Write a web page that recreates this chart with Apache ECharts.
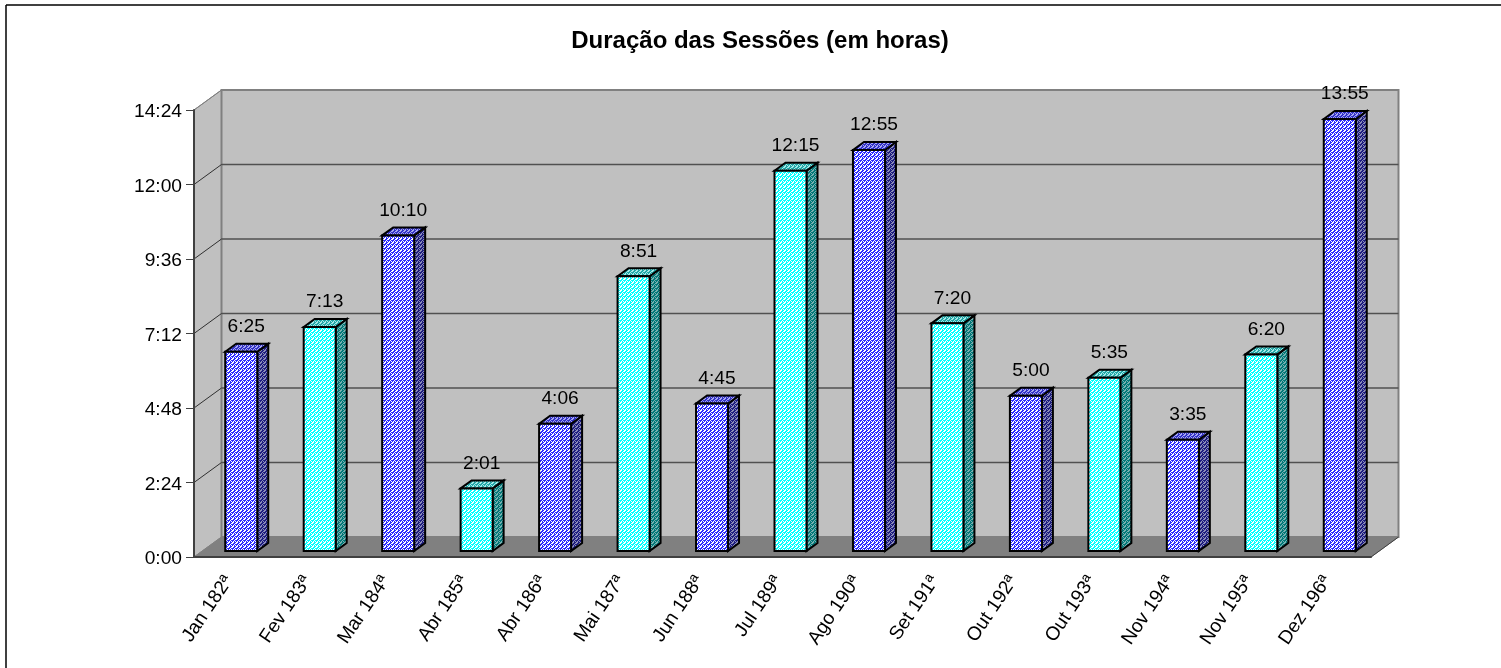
<!DOCTYPE html>
<html>
<head>
<meta charset="utf-8">
<style>html,body{margin:0;padding:0;background:#fff}#c{width:1501px;height:668px}</style>
<script src="https://cdn.jsdelivr.net/npm/echarts@6/dist/echarts.min.js"></script>
</head>
<body>
<div id="c"></div>
<script>
const titleText = 'Duração das Sessões (em horas)';
const categories = ['Jan 182ª','Fev 183ª','Mar 184ª','Abr 185ª','Abr 186ª','Mai 187ª','Jun 188ª','Jul 189ª','Ago 190ª','Set 191ª','Out 192ª','Out 193ª','Nov 194ª','Nov 195ª','Dez 196ª'];
const minutes = [385,433,610,121,246,531,285,735,775,440,300,335,215,380,835];
const colourKind = [0,1,0,1,0,1,0,1,0,1,0,1,0,1,0];
const tickMinutes = [0,144,288,432,576,720,864];

const FONT = '"Liberation Sans", Arial, sans-serif';
const wallDX = 27.5, wallDY = 20, barShiftX = 8, barShiftY = 6, barW = 32, barDX = 11, barDY = 8;

function fmt(m){ const h = Math.floor(m/60), r = m%60; return h + ':' + String(r).padStart(2,'0'); }

function pattern(a, b){
  const c = document.createElement('canvas'); c.width = 4; c.height = 4;
  const g = c.getContext('2d');
  const rows = [[0,0,1,0],[0,1,0,1],[1,1,0,0],[1,0,0,1]];
  rows.forEach((r,y)=>r.forEach((v,x)=>{ g.fillStyle = v ? b : a; g.fillRect(x,y,1,1); }));
  return {image:c, repeat:'repeat'};
}
const fills = [
  {front:pattern('#2a2aff','#ffffff'), top:pattern('#3030c8','#a8a8f0'), side:pattern('#1c1c80','#8c8cb8')},
  {front:pattern('#00ffff','#ffffff'), top:pattern('#20a8a8','#a8e8e8'), side:pattern('#007878','#78b0b0')}
];

function renderWalls(params, api){
  const step = api.size([1,0])[0];
  const p0 = api.coord([0,0]), pT = api.coord([0,864]), pR = api.coord([categories.length-1,0]);
  const L = p0[0]-step/2, R = pR[0]+step/2, B = p0[1], T = pT[1];
  const kids = [
    {type:'polygon', shape:{points:[[L,B],[L,T],[L+wallDX,T-wallDY],[L+wallDX,B-wallDY]]}, style:{fill:'#c0c0c0',stroke:'#808080',lineWidth:1}},
    {type:'rect', shape:{x:L+wallDX,y:T-wallDY,width:R-L,height:B-T}, style:{fill:'#c0c0c0',stroke:'#808080',lineWidth:2}},
    {type:'polygon', shape:{points:[[L,B],[R,B],[R+wallDX,B-wallDY],[L+wallDX,B-wallDY]]}, style:{fill:'#808080',stroke:'#808080',lineWidth:1}},
    {type:'line', shape:{x1:R,y1:B,x2:R+wallDX,y2:B-wallDY}, style:{stroke:'#404040',lineWidth:1}}
  ];
  tickMinutes.forEach(m=>{
    const y = api.coord([0,m])[1];
    if(m>0 && m<864) kids.push({type:'line', shape:{x1:L+wallDX,y1:y-wallDY,x2:R+wallDX,y2:y-wallDY}, style:{stroke:'#505050',lineWidth:1.5}});
    if(m>0) kids.push({type:'line', shape:{x1:L,y1:y,x2:L+wallDX,y2:y-wallDY}, style:{stroke:m===864?'#808080':'#303030',lineWidth:1}});
  });
  return {type:'group', children:kids};
}

function renderBar(params, api){
  const i = api.value(0), v = api.value(1);
  const c = api.coord([i,v]), b = api.coord([i,0]);
  const x0 = c[0]+barShiftX-barW/2, x1 = x0+barW, yT = c[1]-barShiftY, yB = b[1]-barShiftY;
  const f = fills[colourKind[i]];
  const edge = {stroke:'#000',lineWidth:2,lineJoin:'miter'};
  return {type:'group', children:[
    {type:'polygon', shape:{points:[[x1,yT],[x1+barDX,yT-barDY],[x1+barDX,yB-barDY],[x1,yB]]}, style:Object.assign({fill:f.side},edge)},
    {type:'polygon', shape:{points:[[x0,yT],[x0+barDX,yT-barDY],[x1+barDX,yT-barDY],[x1,yT]]}, style:Object.assign({fill:f.top},edge)},
    {type:'rect', shape:{x:x0,y:yT,width:barW,height:yB-yT}, style:Object.assign({fill:f.front},edge)},
    {type:'text', style:{text:fmt(v), x:(x0+x1)/2+5, y:yT-25, align:'center', verticalAlign:'middle', font:'19.2px '+FONT, fill:'#000'}}
  ]};
}

const chart = echarts.init(document.getElementById('c'), null, {renderer:'canvas'});
chart.setOption({
  animation:false,
  backgroundColor:'#fff',
  title:{text:titleText, left:755, top:24, textAlign:'center', textStyle:{fontFamily:FONT,fontWeight:'bold',fontSize:24,color:'#000'}},
  grid:{left:194, top:110, width:1177, height:447, containLabel:false},
  xAxis:{type:'category', data:categories, z:5,
    axisLine:{lineStyle:{color:'#404040',width:2}},
    axisTick:{alignWithLabel:false,length:8,lineStyle:{color:'#404040',width:1}},
    axisLabel:{rotate:56, margin:14, padding:[15,8,0,0], interval:0, fontFamily:FONT, fontSize:19.2, color:'#000'},
    splitLine:{show:false}
  },
  yAxis:{type:'value', min:0, max:864, interval:144, z:5,
    axisLine:{show:true,lineStyle:{color:'#404040',width:2}},
    axisTick:{show:true,length:8,lineStyle:{color:'#404040',width:1}},
    axisLabel:{margin:12, verticalAlign:'top', lineHeight:4, fontFamily:FONT, fontSize:19.2, color:'#000', showMaxLabel:true, showMinLabel:true, formatter:v=>fmt(v)},
    splitLine:{show:false}
  },
  graphic:[
    {type:'line', shape:{x1:6,y1:5,x2:1501,y2:5}, style:{stroke:'#000',lineWidth:1.5}},
    {type:'line', shape:{x1:6,y1:5,x2:6,y2:668}, style:{stroke:'#000',lineWidth:1.5}}
  ],
  series:[
    {type:'custom', name:'walls', silent:true, clip:false, z:1, data:[[0,0]], encode:{x:0,y:1}, renderItem:renderWalls},
    {type:'custom', name:'Duração', silent:true, clip:false, z:3, data:minutes.map((m,i)=>[i,m]), encode:{x:0,y:1}, renderItem:renderBar}
  ]
});
</script>
</body>
</html>
